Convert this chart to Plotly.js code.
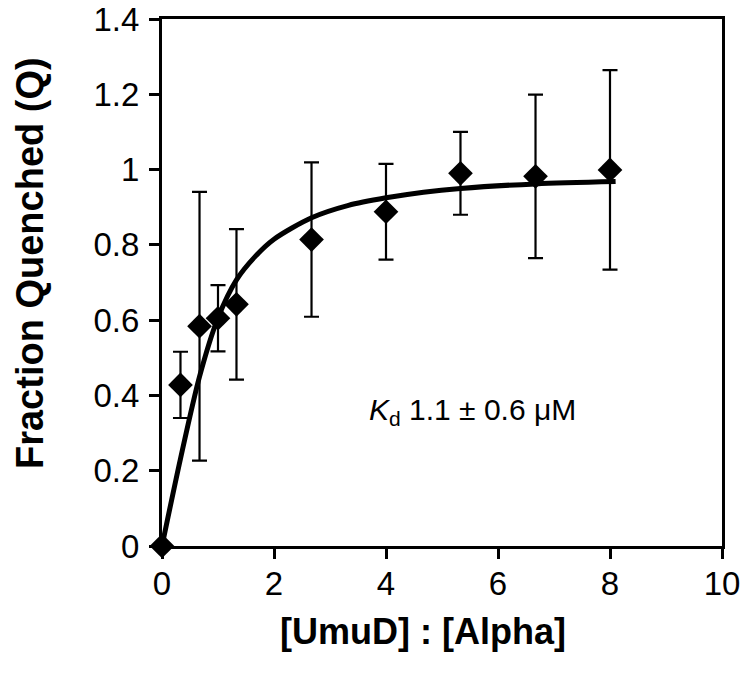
<!DOCTYPE html>
<html>
<head>
<meta charset="utf-8">
<script src="https://cdn.plot.ly/plotly-3.0.1.min.js"></script>
<style>html,body{margin:0;padding:0;background:#fff;}#chart{width:747px;height:680px;}</style>
</head>
<body>
<div id="chart"></div>
<script>
// Measured data: [UmuD]:[Alpha] ratio vs fraction quenched
const ratio = [0, 0.33, 0.67, 1.0, 1.33, 2.67, 4.0, 5.33, 6.67, 8.0];
const quenched = [0, 0.428, 0.584, 0.605, 0.642, 0.814, 0.888, 0.99, 0.982, 0.999];
const errQ = [0, 0.088, 0.357, 0.088, 0.2, 0.205, 0.127, 0.11, 0.217, 0.265];

// Fitted binding curve
const fitX = [0, 0.33, 0.67, 1.0, 1.33, 1.67, 2.0, 2.67, 3.33, 4.0, 4.67, 5.33, 6.67, 8.1];
const fitY = [0, 0.232, 0.45, 0.606, 0.707, 0.77, 0.815, 0.872, 0.905, 0.925, 0.94, 0.95, 0.962, 0.968];

const xTicks = [0, 2, 4, 6, 8, 10];
const yTicks = [0, 0.2, 0.4, 0.6, 0.8, 1, 1.2, 1.4];
const yTickText = ['0', '0.2', '0.4', '0.6', '0.8', '1', '1.2', '1.4'];

const xTitle = '<b>[UmuD] : [Alpha]</b>';
const yTitle = '<b>Fraction Quenched (Q)</b>';
const kdLabel = '<i>K</i><sub>d</sub> 1.1 ± 0.6 μM';

const FONT = 'Arial, "Liberation Sans", sans-serif';

const traces = [
  {
    x: ratio, y: quenched, type: 'scatter', mode: 'markers',
    marker: {symbol: 'diamond', size: 19, color: '#000'},
    error_y: {type: 'data', array: errQ, visible: true, color: '#000', thickness: 2.2, width: 7.5},
    cliponaxis: false, showlegend: false, hoverinfo: 'x+y'
  },
  {
    x: fitX, y: fitY, type: 'scatter', mode: 'lines',
    line: {color: '#000', width: 5, shape: 'spline', smoothing: 0.8},
    showlegend: false, hoverinfo: 'skip'
  }
];

const axisCommon = {
  showgrid: false, zeroline: false, showline: true, linecolor: '#000', linewidth: 3,
  mirror: true, ticks: 'outside', ticklen: 10, tickwidth: 3, tickcolor: '#000',
  tickfont: {family: FONT, size: 33, color: '#000'}
};

const layout = {
  width: 747, height: 680,
  margin: {l: 162, r: 25, t: 18.5, b: 133.5, pad: 0},
  paper_bgcolor: '#fff', plot_bgcolor: '#fff',
  font: {family: FONT, color: '#000'},
  xaxis: Object.assign({}, axisCommon, {
    range: [0, 10], tickvals: xTicks, ticktext: xTicks.map(String),
    ticklabelstandoff: -4
  }),
  yaxis: Object.assign({}, axisCommon, {
    range: [0, 1.4], tickvals: yTicks, ticktext: yTickText,
    ticklabelstandoff: 3
  }),
  annotations: [
    {
      x: 3.66, y: 0.357, xref: 'x', yref: 'y', xanchor: 'left', yanchor: 'middle',
      text: kdLabel, showarrow: false,
      font: {family: FONT, size: 30, color: '#000'}
    },
    {
      x: 0.466, y: -0.162, xref: 'paper', yref: 'paper', xanchor: 'center', yanchor: 'middle',
      text: xTitle, showarrow: false,
      font: {family: FONT, size: 36, color: '#000'}
    },
    {
      x: -0.2357, y: 0.537, xref: 'paper', yref: 'paper', xanchor: 'center', yanchor: 'middle',
      text: yTitle, showarrow: false, textangle: -90,
      font: {family: FONT, size: 38, color: '#000'}
    }
  ]
};

Plotly.newPlot('chart', traces, layout, {displayModeBar: false, staticPlot: true});
</script>
</body>
</html>
